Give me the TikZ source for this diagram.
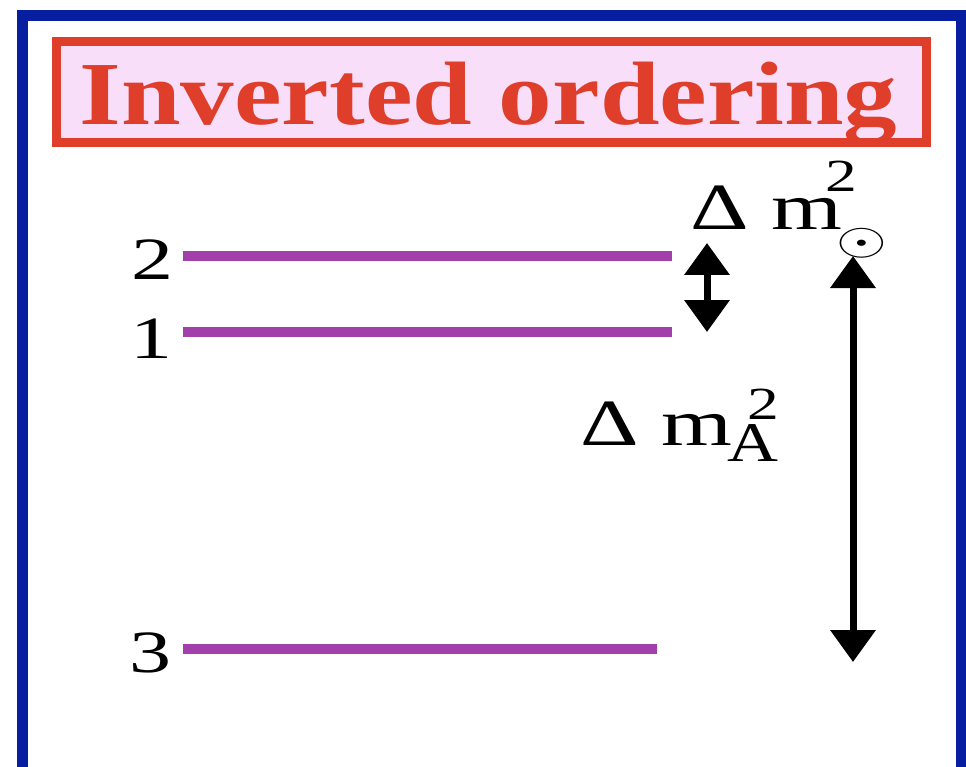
\RequirePackage{fix-cm}
\documentclass[tikz,border=0pt]{standalone}
\usepackage{fontspec}
\setmainfont{Liberation Serif}
\usetikzlibrary{arrows.meta}
\definecolor{frameblue}{RGB}{8,30,160}
\definecolor{titlered}{RGB}{222,62,42}
\definecolor{titlepink}{RGB}{249,222,249}
\definecolor{levelpurple}{RGB}{163,63,170}

\begin{document}
\begin{tikzpicture}[x=1pt,y=-1pt,
  level/.style={levelpurple,line width=10pt},
  gap/.style={line width=7pt,{Triangle[width=44pt,length=32pt]}-{Triangle[width=44pt,length=32pt]}},
  lab/.style={inner sep=0pt,xscale=1.4,font=\fontsize{60}{60}\selectfont},
  dm/.style={inner sep=0pt,xscale=1.38,font=\fontsize{66}{66}\selectfont,anchor=base west},
  supscr/.style={inner sep=0pt,xscale=1.38,font=\fontsize{46}{46}\selectfont},
  subscr/.style={inner sep=0pt,xscale=1.26,font=\fontsize{56}{56}\selectfont}]
 \useasboundingbox (0,0) rectangle (966,767);
 \clip (0,0) rectangle (966,767);
 \draw[frameblue,line width=11pt] (22.5,800) -- (22.5,15.5) -- (961,15.5) -- (961,800);
 \draw[titlered,fill=titlepink,line width=9pt] (56.5,41.5) rectangle (926.5,142.5);
 \node[titlered,inner sep=0pt,xscale=1.19,anchor=base,font=\fontsize{90}{90}\selectfont\bfseries] (title) at (488.5,125) {Inverted ordering};
 \node[lab] (n2) at (152,260) {2};
 \node[lab] (n1) at (151,339) {1};
 \node[lab] (n3) at (150,653) {3};
 \coordinate (l2a) at (183,256); \coordinate (l2b) at (672,256);
 \coordinate (l1a) at (183,332); \coordinate (l1b) at (672,332);
 \coordinate (l3a) at (183,649); \coordinate (l3b) at (657,649);
 \draw[level] (l2a) -- (l2b);
 \draw[level] (l1a) -- (l1b);
 \draw[level] (l3a) -- (l3b);
 \coordinate (sola) at (707,243); \coordinate (solb) at (707,332);
 \coordinate (atma) at (853,256); \coordinate (atmb) at (853,662);
 \draw[gap] (sola) -- (solb);
 \draw[gap] (atma) -- (atmb);
 \node[dm] (dmsol) at (690,230) {Δ m};
 \node[supscr] (dmsolsup) at (841,176) {2};
 \node[inner sep=0pt,xscale=1.45,font=\fontsize{45}{45}\selectfont] (dmsolsub) at (862,243) {$\odot$};
 \node[dm] (dmatm) at (580,445) {Δ m};
 \node[supscr] (dmatmsup) at (763,404) {2};
 \node[subscr] (dmatmsub) at (753,443) {A};
\end{tikzpicture}
\end{document}
